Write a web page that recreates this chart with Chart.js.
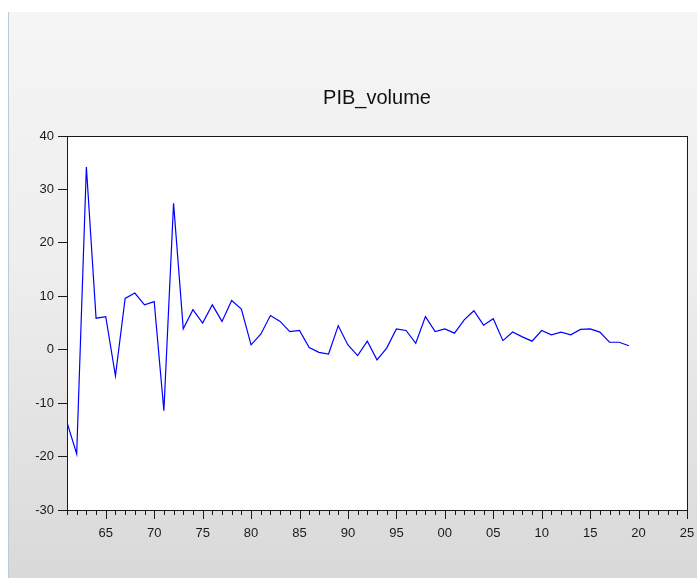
<!DOCTYPE html>
<html>
<head>
<meta charset="utf-8">
<script src="https://cdn.jsdelivr.net/npm/chart.js@4.4.1/dist/chart.umd.min.js"></script>
<style>
  html, body { margin: 0; padding: 0; background: #ffffff; width: 697px; height: 578px; overflow: hidden; }
  #bg { position: absolute; left: 8px; top: 12px; width: 689px; height: 566px;
        border-left: 1px solid #b8cbe4;
        background: linear-gradient(to bottom, #f5f5f5 0%, #eeeeee 45%, #d9d9d9 100%); }
  #wrap { position: absolute; left: 0; top: 0; width: 697px; height: 578px; }
</style>
</head>
<body>
<div id="bg"></div>
<div id="wrap"><canvas id="c" width="697" height="578"></canvas></div>
<script>
const years = [1961,1962,1963,1964,1965,1966,1967,1968,1969,1970,
               1971,1972,1973,1974,1975,1976,1977,1978,1979,1980,
               1981,1982,1983,1984,1985,1986,1987,1988,1989,1990,
               1991,1992,1993,1994,1995,1996,1997,1998,1999,2000,
               2001,2002,2003,2004,2005,2006,2007,2008,2009,2010,
               2011,2012,2013,2014,2015,2016,2017,2018,2019];
const pibVolume = [-13.6,-19.5,34.2,5.9,6.2,-4.9,9.6,10.6,8.4,9.0,
                   -11.4,27.4,3.9,7.5,5.0,8.4,5.3,9.2,7.6,0.9,
                   2.9,6.4,5.3,3.4,3.6,0.4,-0.5,-0.8,4.5,0.9,
                   -1.1,1.6,-1.9,0.3,3.9,3.6,1.2,6.2,3.4,3.9,
                   3.1,5.6,7.3,4.6,5.8,1.7,3.3,2.4,1.6,3.6,
                   2.8,3.3,2.8,3.8,3.9,3.3,1.4,1.4,0.75];
const yTicks = [-30,-20,-10,0,10,20,30,40];
const xMin = 1961, xMax = 2025;
const titleText = 'PIB_volume';

const frameAndTicks = {
  id: 'frameAndTicks',
  beforeDraw(chart) {
    const ctx = chart.ctx, a = chart.chartArea;
    ctx.save();
    ctx.fillStyle = '#ffffff';
    ctx.fillRect(a.left, a.top, a.right - a.left, a.bottom - a.top);
    ctx.restore();
  },
  afterDatasetsDraw(chart) {
    const ctx = chart.ctx, a = chart.chartArea, xs = chart.scales.x;
    ctx.save();
    ctx.strokeStyle = '#1a1a1a';
    ctx.lineWidth = 1;
    ctx.strokeRect(Math.round(a.left) + 0.5, Math.round(a.top) + 0.5,
                   Math.round(a.right - a.left), Math.round(a.bottom - a.top));
    ctx.beginPath();
    for (let yr = xMin; yr <= xMax; yr++) {
      const px = Math.round(xs.getPixelForValue(yr)) + 0.5;
      const len = (yr % 5 === 0) ? 9 : 5;
      ctx.moveTo(px, Math.round(a.bottom));
      ctx.lineTo(px, Math.round(a.bottom) + len);
    }
    ctx.stroke();
    ctx.restore();
  }
};

new Chart(document.getElementById('c'), {
  type: 'line',
  data: {
    datasets: [{
      data: years.map((y, i) => ({ x: y, y: pibVolume[i] })),
      borderColor: '#0000ff',
      borderWidth: 1.2,
      pointRadius: 0,
      tension: 0,
      fill: false
    }]
  },
  options: {
    responsive: false,
    animation: false,
    layout: { padding: { left: 7, right: 10, top: 0, bottom: 0 } },
    plugins: {
      legend: { display: false },
      tooltip: { enabled: false },
      title: {
        display: true,
        text: titleText,
        fullSize: false,
        color: '#111111',
        font: { family: '"Liberation Sans", Arial, sans-serif', size: 20, weight: 'normal', lineHeight: '24px' },
        padding: { top: 86, bottom: 26 }
      }
    },
    scales: {
      x: {
        type: 'linear',
        min: xMin, max: xMax,
        afterFit(s) { s.height = 68; s.paddingLeft = 0; s.paddingRight = 0; },
        border: { display: false },
        grid: { display: true, drawOnChartArea: false, drawTicks: false },
        ticks: {
          stepSize: 5,
          includeBounds: false,
          autoSkip: false,
          maxRotation: 0,
          padding: 16,
          color: '#1a1a1a',
          font: { family: '"Liberation Sans", Arial, sans-serif', size: 13 },
          callback: v => (v % 5 === 0) ? String(v % 100).padStart(2, '0') : ''
        }
      },
      y: {
        min: -30, max: 40,
        afterFit(s) { s.width = 60; s.paddingTop = 0; s.paddingBottom = 0; },
        afterBuildTicks(s) { s.ticks = yTicks.map(v => ({ value: v })); },
        border: { display: false },
        grid: { drawOnChartArea: false, drawTicks: true, tickLength: 9, tickColor: '#1a1a1a' },
        ticks: {
          padding: 4,
          color: '#1a1a1a',
          font: { family: '"Liberation Sans", Arial, sans-serif', size: 13 }
        }
      }
    }
  },
  plugins: [frameAndTicks]
});
</script>
</body>
</html>
